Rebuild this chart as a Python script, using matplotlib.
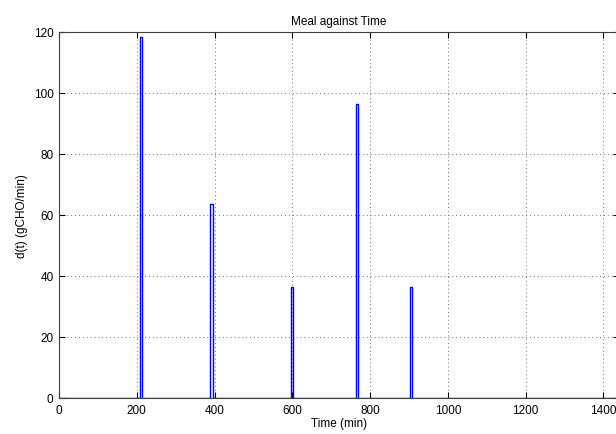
import numpy as np
from matplotlib import pyplot as plt

# meal pulses: start time (min), duration (min), rate (gCHO/min)
meal_start = [208, 389, 596, 763, 902]
meal_len = [6, 6, 6, 6, 6]
meal_rate = [118.5, 63.5, 36.5, 96.3, 36.3]

x_ticks = [0, 200, 400, 600, 800, 1000, 1200, 1400]
y_ticks = [0, 20, 40, 60, 80, 100, 120]


def pulse_series(starts, lens, rates, t_end=1440):
    t = [0]
    d = [0]
    for s, l, r in zip(starts, lens, rates):
        t += [s, s, s + l, s + l]
        d += [0, r, r, 0]
    t.append(t_end)
    d.append(0)
    return np.array(t), np.array(d)


t, d = pulse_series(meal_start, meal_len, meal_rate)

plt.rcParams['font.family'] = ['Liberation Sans', 'DejaVu Sans']
fig = plt.figure(figsize=(6.16, 4.35), dpi=100)
ax = fig.add_axes([59 / 616, 36 / 435, 560 / 616, 366 / 435])

ax.plot(t, d, color='#0000ff', linewidth=1.0)
ax.set_xlim(0, 1440)
ax.set_ylim(0, 120)
ax.set_xticks(x_ticks)
ax.set_yticks(y_ticks)
ax.tick_params(direction='in', labelsize=8.5, length=4, width=0.8,
               top=True, right=True, pad=4)
ax.grid(True, linestyle=(0, (1, 3)), color='#707070', linewidth=0.7)
for s in ax.spines.values():
    s.set_linewidth(0.8)
    s.set_color('#404040')

ax.set_title('Meal against Time', fontsize=8.5)
ax.set_xlabel('Time (min)', fontsize=8.5, labelpad=1)
ax.set_ylabel('d(t) (gCHO/min)', fontsize=8.5)

fig.savefig('out.png', dpi=100)
